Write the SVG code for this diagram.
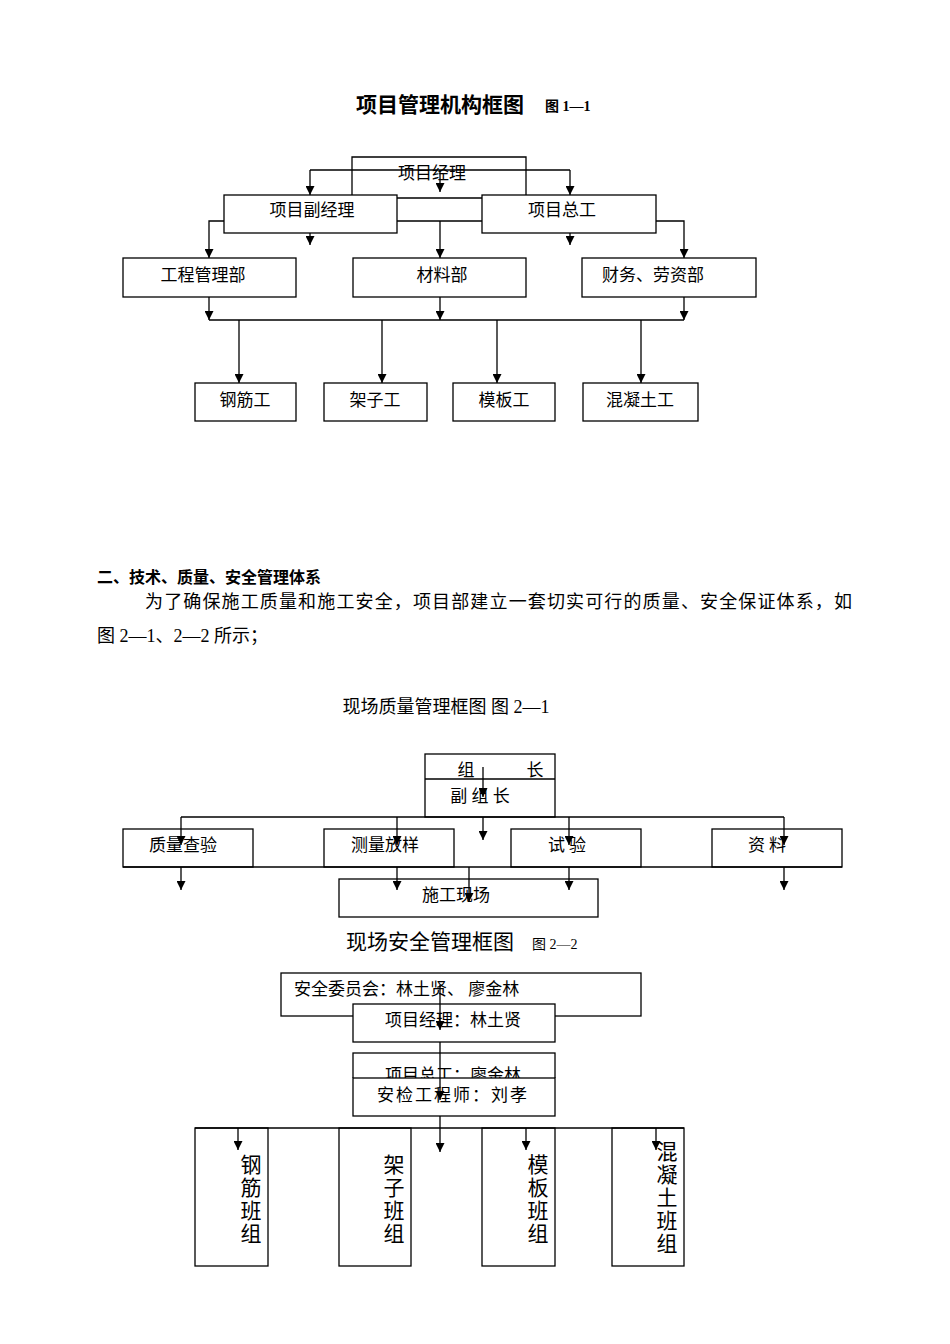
<svg xmlns="http://www.w3.org/2000/svg" width="950" height="1344" viewBox="0 0 950 1344">
<style>
text{font-family:"Liberation Serif","Noto Sans CJK SC",serif;fill:#000}
.b{fill:#fff;stroke:#000;stroke-width:1.3}
.l{fill:none;stroke:#000;stroke-width:1.3}
.t{font-size:17px;text-anchor:middle}
.v{font-size:21px;text-anchor:middle}
</style>
<defs><marker id="a" viewBox="0 0 10 10" refX="10" refY="5" markerWidth="9" markerHeight="9" markerUnits="userSpaceOnUse" orient="auto"><path d="M0,0L10,5L0,10z" fill="#000"/></marker></defs>
<rect width="950" height="1344" fill="#fff"/>
<text x="440" y="112" style="font-size:21px;font-weight:bold" text-anchor="middle">项目管理机构框图</text>
<text x="545" y="111" style="font-size:14px;font-weight:bold">图 1—1</text>
<g id="n1"><text x="432" y="179" class="t">项目经理</text></g>
<g id="n2"><rect class="b" x="224" y="195" width="173" height="38"/><text x="312" y="216" class="t">项目副经理</text></g>
<g id="n3"><rect class="b" x="482" y="195" width="174" height="38"/><text x="562" y="216" class="t">项目总工</text></g>
<g id="n4"><rect class="b" x="123" y="258" width="173" height="39"/><text x="203" y="281" class="t">工程管理部</text></g>
<g id="n5"><rect class="b" x="353" y="258" width="173" height="39"/><text x="442" y="281" class="t">材料部</text></g>
<g id="n6"><rect class="b" x="582" y="258" width="174" height="39"/><text x="653" y="281" class="t">财务、劳资部</text></g>
<g id="n7"><rect class="b" x="195" y="383" width="101" height="38"/><text x="245" y="406" class="t">钢筋工</text></g>
<g id="n8"><rect class="b" x="324" y="383" width="103" height="38"/><text x="375" y="406" class="t">架子工</text></g>
<g id="n9"><rect class="b" x="453" y="383" width="102" height="38"/><text x="504" y="406" class="t">模板工</text></g>
<g id="n10"><rect class="b" x="583" y="383" width="115" height="38"/><text x="640" y="406" class="t">混凝土工</text></g>
<g id="c1">
<path class="l" d="M352,195V157H526V195"/>
<path class="l" d="M310,170H570"/>
<path class="l" d="M310,170V195" marker-end="url(#a)"/>
<path class="l" d="M440,170V192" marker-end="url(#a)"/>
<path class="l" d="M570,170V195" marker-end="url(#a)"/>
<path class="l" d="M397,198H482M397,221H482"/>
<path class="l" d="M440,221V258" marker-end="url(#a)"/>
<path class="l" d="M310,233V245" marker-end="url(#a)"/>
<path class="l" d="M570,233V245" marker-end="url(#a)"/>
<path class="l" d="M224,221H209V258" marker-end="url(#a)"/>
<path class="l" d="M656,221H684V258" marker-end="url(#a)"/>
<path class="l" d="M209,297V320" marker-end="url(#a)"/>
<path class="l" d="M440,297V320" marker-end="url(#a)"/>
<path class="l" d="M684,297V320" marker-end="url(#a)"/>
<path class="l" d="M209,320H684"/>
<path class="l" d="M239,320V383" marker-end="url(#a)"/>
<path class="l" d="M382,320V383" marker-end="url(#a)"/>
<path class="l" d="M497,320V383" marker-end="url(#a)"/>
<path class="l" d="M641,320V383" marker-end="url(#a)"/>
</g>
<text x="97" y="583" style="font-size:16px;font-weight:bold">二、技术、质量、安全管理体系</text>
<text x="145" y="608" style="font-size:18px" textLength="707" lengthAdjust="spacing">为了确保施工质量和施工安全，项目部建立一套切实可行的质量、安全保证体系，如</text>
<text x="97" y="642" style="font-size:18px">图 2—1、2—2 所示；</text>
<text x="446" y="713" style="font-size:18px" text-anchor="middle">现场质量管理框图  图 2—1</text>
<g id="m1"><rect class="b" x="425" y="754" width="130" height="63"/><path class="l" d="M425,779H555"/><text x="466" y="776" class="t">组</text><text x="535" y="776" class="t">长</text><text x="480" y="802" class="t">副 组 长</text></g>
<g id="m2"><rect class="b" x="123" y="829" width="130" height="38"/><text x="183" y="851" class="t">质量查验</text></g>
<g id="m3"><rect class="b" x="324" y="829" width="130" height="38"/><text x="385" y="851" class="t">测量放样</text></g>
<g id="m4"><rect class="b" x="511" y="829" width="130" height="38"/><text x="567" y="851" class="t">试 验</text></g>
<g id="m5"><rect class="b" x="712" y="829" width="130" height="38"/><text x="767" y="851" class="t">资 料</text></g>
<g id="m6"><rect class="b" x="339" y="879" width="259" height="38"/><text x="456" y="901" class="t">施工现场</text></g>
<g id="c2">
<path class="l" d="M483,767V797" marker-end="url(#a)"/>
<path class="l" d="M483,817V840" marker-end="url(#a)"/>
<path class="l" d="M181,817H784"/>
<path class="l" d="M181,817V845" marker-end="url(#a)"/>
<path class="l" d="M397,817V845" marker-end="url(#a)"/>
<path class="l" d="M569,817V845" marker-end="url(#a)"/>
<path class="l" d="M784,817V845" marker-end="url(#a)"/>
<path class="l" d="M123,867H842"/>
<path class="l" d="M181,867V890" marker-end="url(#a)"/>
<path class="l" d="M397,867V890" marker-end="url(#a)"/>
<path class="l" d="M569,867V890" marker-end="url(#a)"/>
<path class="l" d="M784,867V890" marker-end="url(#a)"/>
<path class="l" d="M469,867V902" marker-end="url(#a)"/>
</g>
<text x="430" y="949" style="font-size:21px" text-anchor="middle">现场安全管理框图</text>
<text x="532" y="949" style="font-size:14px">图 2—2</text>
<g id="s1"><rect class="b" x="281" y="973" width="360" height="43"/><text x="294" y="995" style="font-size:17px">安全委员会：林土贤、  廖金林</text></g>
<g id="s2"><rect class="b" x="353" y="1004" width="202" height="38"/><text x="453" y="1026" class="t">项目经理：林土贤</text></g>
<g id="s3"><svg x="352" y="1052" width="205" height="26"><rect class="b" x="1" y="1" width="202" height="40"/><text x="101" y="29" class="t">项目总工：廖金林</text></svg></g>
<g id="s4"><rect class="b" x="353" y="1078" width="202" height="38"/><text x="453" y="1101" class="t" style="letter-spacing:2px">安检工程师：刘孝</text></g>
<g id="s5"><rect class="b" x="195" y="1128" width="73" height="138"/><text class="v" x="251" y="1172">钢</text><text class="v" x="251" y="1195">筋</text><text class="v" x="251" y="1218">班</text><text class="v" x="251" y="1241">组</text></g>
<g id="s6"><rect class="b" x="339" y="1128" width="72" height="138"/><text class="v" x="394" y="1172">架</text><text class="v" x="394" y="1195">子</text><text class="v" x="394" y="1218">班</text><text class="v" x="394" y="1241">组</text></g>
<g id="s7"><rect class="b" x="482" y="1128" width="73" height="138"/><text class="v" x="538" y="1172">模</text><text class="v" x="538" y="1195">板</text><text class="v" x="538" y="1218">班</text><text class="v" x="538" y="1241">组</text></g>
<g id="s8"><rect class="b" x="612" y="1128" width="72" height="138"/><text class="v" x="667" y="1159">混</text><text class="v" x="667" y="1182">凝</text><text class="v" x="667" y="1205">土</text><text class="v" x="667" y="1228">班</text><text class="v" x="667" y="1251">组</text></g>
<g id="c3">
<path class="l" d="M440,985V1030" marker-end="url(#a)"/>
<path class="l" d="M440,1042V1053"/>
<path class="l" d="M440,1053V1100" marker-end="url(#a)"/>
<path class="l" d="M195,1128H684"/>
<path class="l" d="M440,1116V1152" marker-end="url(#a)"/>
<path class="l" d="M238,1128V1150" marker-end="url(#a)"/>
<path class="l" d="M526,1128V1150" marker-end="url(#a)"/>
<path class="l" d="M656,1128V1150" marker-end="url(#a)"/>
</g>
</svg>
